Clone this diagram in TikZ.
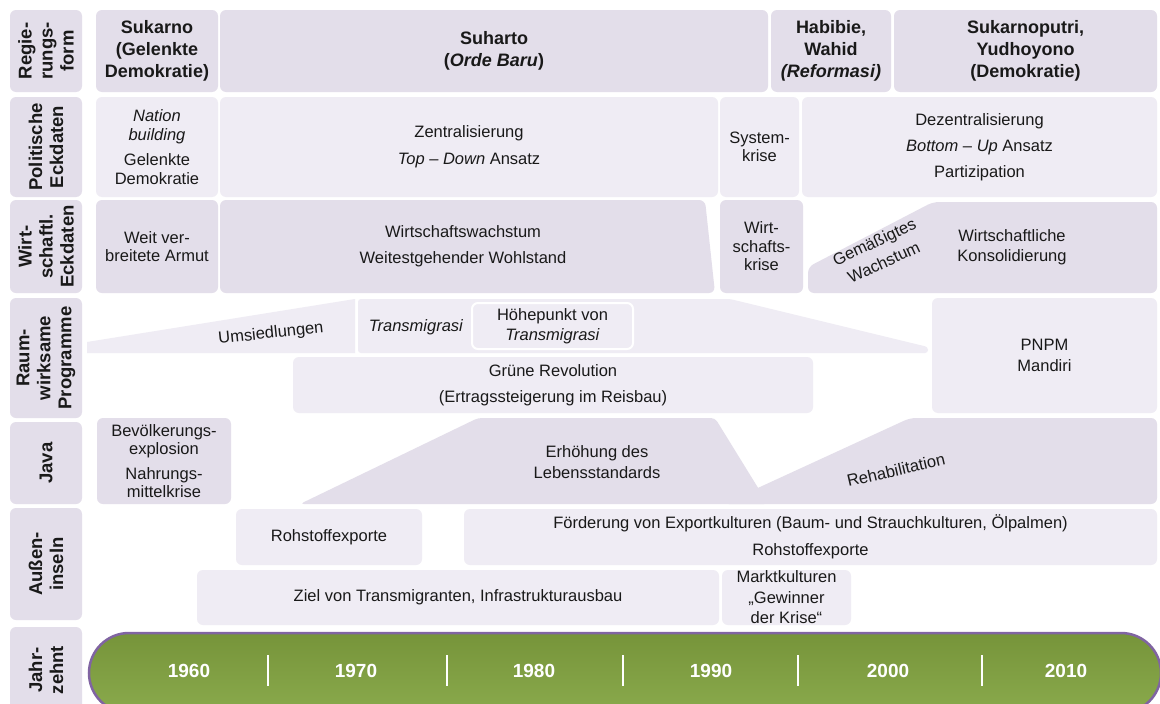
\documentclass[tikz,border=0pt]{standalone}
\usepackage{fontspec}
\setmainfont{Liberation Sans}
\usepackage{xcolor}
\usepackage{tikz}
\usetikzlibrary{shapes.geometric, positioning}
\definecolor{lilaDark}{RGB}{227,222,234}
\definecolor{lilaLight}{RGB}{239,236,244}
\definecolor{textGray}{RGB}{25,25,25}
\definecolor{barGreen}{RGB}{118,148,58}
\definecolor{barGreenLight}{RGB}{138,170,76}
\definecolor{barPurple}{RGB}{128,100,162}
\tikzstyle{rowlabel} = [rectangle, rounded corners=6pt, fill=lilaDark, rotate=90, minimum height=72pt, inner sep=0pt, text=textGray, font=\bfseries\fontsize{18.5}{21}\selectfont]
\tikzstyle{headbox}  = [rectangle, rounded corners=6pt, fill=lilaDark, minimum height=82pt, inner sep=0pt, text=textGray, font=\bfseries\fontsize{18}{22}\selectfont]
\tikzstyle{darkbox}  = [rectangle, rounded corners=6pt, fill=lilaDark, inner sep=0pt, text=textGray, font=\fontsize{16.5}{18.5}\selectfont]
\tikzstyle{lightbox} = [rectangle, rounded corners=6pt, fill=lilaLight, inner sep=0pt, text=textGray, font=\fontsize{16.5}{18.5}\selectfont]
\tikzstyle{txt}      = [inner sep=0pt, text=textGray, font=\fontsize{16.5}{18.5}\selectfont]
\tikzstyle{year}     = [inner sep=0pt, text=white, font=\bfseries\fontsize{19}{22}\selectfont]
\tikzstyle{decade}   = [white, line width=1.8pt]
\tikzset{every node/.style={align=center}}

\begin{document}
\begin{tikzpicture}[x=1pt, y=-1pt]
    \useasboundingbox (0,0) rectangle (1160,704);
    \clip (0,0) rectangle (1160,704);
    \fill[white] (0,0) rectangle (1160,704);

    % row labels on the left
    \node (lreg) at (46, 51)    [rowlabel, minimum width=82pt]  {Regie-\\rungs-\\form};
    \node (lpol) at (46, 147)   [rowlabel, minimum width=100pt] {Politische\\Eckdaten};
    \node (lwir) at (46, 246.5) [rowlabel, minimum width=93pt]  {Wirt-\\schaftl.\\Eckdaten};
    \node (lrau) at (46, 358)   [rowlabel, minimum width=120pt] {Raum-\\wirksame\\Programme};
    \node (ljav) at (46, 463)   [rowlabel, minimum width=82pt]  {Java};
    \node (laus) at (46, 564)   [rowlabel, minimum width=112pt] {Außen-\\inseln};
    \node (ljah) at (46, 670)   [rowlabel, minimum width=86pt]  {Jahr-\\zehnt};

    % Regierungsform
    \node (suk)  at (157, 51)    [headbox, minimum width=122pt] {Sukarno\\(Gelenkte\\Demokratie)};
    \node (suh)  at (494, 51)    [headbox, minimum width=548pt] {Suharto\\(\textit{Orde Baru})};
    \node (hab)  at (831, 51)    [headbox, minimum width=120pt] {Habibie,\\Wahid\\\textit{(Reformasi)}};
    \node (sukp) at (1025.5, 51) [headbox, minimum width=263pt] {Sukarnoputri,\\Yudhoyono\\(Demokratie)};

    % Politische Eckdaten
    \node (nat) at (157, 147)   [lightbox, minimum width=122pt, minimum height=100pt] {\textit{Nation}\\\textit{building}\\[7pt]Gelenkte\\Demokratie};
    \node (zen) at (469, 147)   [lightbox, minimum width=498pt, minimum height=100pt] {Zentralisierung\\[8.5pt]\textit{Top} -- \textit{Down} Ansatz};
    \node (sys) at (759.5, 147) [lightbox, minimum width=79pt, minimum height=100pt]  {System-\\krise};
    \node (dez) at (979.5, 147) [lightbox, minimum width=355pt, minimum height=100pt] {Dezentralisierung\\[7.5pt]\textit{Bottom} -- \textit{Up} Ansatz\\[7.5pt]Partizipation};

    % Wirtschaftliche Eckdaten
    \node (arm) at (157, 246.5)   [darkbox, minimum width=122pt, minimum height=93pt] {Weit ver-\\breitete Armut};
    \fill[lilaDark, rounded corners=6pt] (220,200) -- (705,200) -- (715,293) -- (220,293) -- cycle;
    \node (wws) at (463, 246)     [txt] {Wirtschaftswachstum\\[7.5pt]Weitestgehender Wohlstand};
    \node (kri) at (761.5, 246.5) [darkbox, minimum width=83pt, minimum height=93pt] {Wirt-\\schafts-\\krise};
    \fill[lilaDark, rounded corners=6pt] (808,293) -- (808,267) -- (933,202) -- (1157,202) -- (1157,293) -- cycle;
    \node (gem) at (879, 252)     [txt, rotate=25] {Gemäßigtes\\[4pt]Wachstum};
    \node (kon) at (1012, 247)    [txt] {Wirtschaftliche\\[1pt]Konsolidierung};

    % Raumwirksame Programme
    \fill[lilaLight] (87,342) -- (355,299) -- (355,353) -- (87,353) -- cycle;
    \node (ums) at (271, 334) [txt, rotate=6] {Umsiedlungen};
    \fill[lilaLight, rounded corners=3pt] (358,299) -- (730,299) -- (928,347) -- (928,353) -- (358,353) -- cycle;
    \node (tra) at (416, 327) [txt] {\textit{Transmigrasi}};
    \node (hoe) at (552.5, 326) [lightbox, draw=white, line width=2pt, minimum width=161pt, minimum height=46pt] {Höhepunkt von\\[2pt]\textit{Transmigrasi}};
    \node (gr)  at (553, 385)   [lightbox, minimum width=520pt, minimum height=56pt] {Grüne Revolution\\[7.5pt](Ertragssteigerung im Reisbau)};
    \node (pn)  at (1044.5, 355.5) [lightbox, minimum width=225pt, minimum height=115pt] {PNPM\\[2pt]Mandiri};

    % Java
    \node (bev) at (164, 461) [darkbox, minimum width=134pt, minimum height=86pt] {Bevölkerungs-\\explosion\\[6pt]Nahrungs-\\mittelkrise};
    \fill[lilaDark, rounded corners=4pt] (300,504) -- (478,418) -- (715,418) -- (768,504) -- cycle;
    \fill[lilaDark, rounded corners=6pt] (723,504) -- (910,418) -- (1157,418) -- (1157,504) -- cycle;
    \node (erh) at (597, 462) [txt] {Erhöhung des\\[2pt]Lebensstandards};
    \node (reh) at (896, 470) [txt, rotate=13] {Rehabilitation};

    % Ausseninseln
    \node (roh)  at (329, 537)     [lightbox, minimum width=186pt, minimum height=56pt] {Rohstoffexporte};
    \node (foe)  at (810.5, 537)   [lightbox, minimum width=693pt, minimum height=56pt] {Förderung von Exportkulturen (Baum- und Strauchkulturen, Ölpalmen)\\[8.5pt]Rohstoffexporte};
    \node (ziel) at (458, 597.5)   [lightbox, minimum width=522pt, minimum height=55pt] {Ziel von Transmigranten, Infrastrukturausbau};
    \node (mkt)  at (786.5, 597.5) [lightbox, minimum width=129pt, minimum height=55pt] {Marktkulturen\\[2pt]„Gewinner\\[2pt]der Krise“};

    % Jahrzehnt
    \draw[barPurple, line width=2.5pt, top color=barGreen, bottom color=barGreenLight, rounded corners=40pt] (89,633) rectangle (1161,713);
    \foreach \x in {268, 447, 623, 798, 982}
        \draw[decade] (\x,655) -- (\x,686);
    \node (y60) at (189, 671)  [year] {1960};
    \node (y70) at (356, 671)  [year] {1970};
    \node (y80) at (534, 671)  [year] {1980};
    \node (y90) at (711, 671)  [year] {1990};
    \node (y00) at (888, 671)  [year] {2000};
    \node (y10) at (1066, 671) [year] {2010};
\end{tikzpicture}
\end{document}
